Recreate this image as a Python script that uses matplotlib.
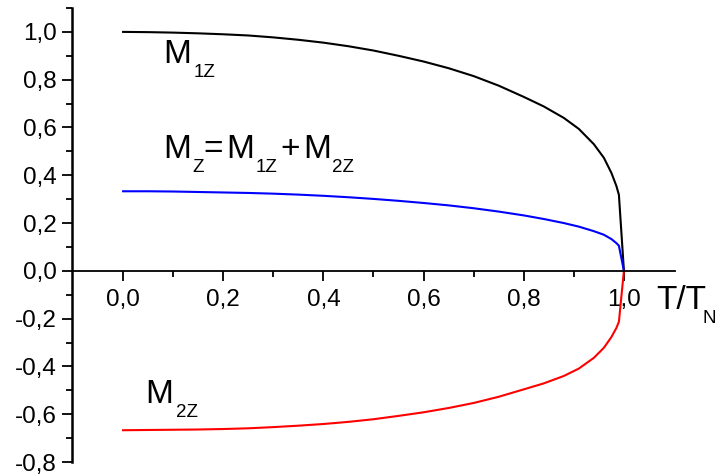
import matplotlib
matplotlib.use("Agg")
import matplotlib.pyplot as plt
from matplotlib.ticker import FixedLocator, FuncFormatter

plt.rcParams['font.family'] = ['Liberation Sans', 'DejaVu Sans']

# reduced temperature T/T_N
t = [0.0, 0.05, 0.1, 0.15, 0.2, 0.25, 0.3, 0.35, 0.4, 0.45, 0.5, 0.55, 0.6,
     0.65, 0.7, 0.75, 0.8, 0.84, 0.88, 0.91, 0.94, 0.96, 0.975, 0.985, 0.99, 1.0]
# sublattice magnetizations
m1z = [1.0, 0.999, 0.997, 0.994, 0.99, 0.985, 0.977, 0.967, 0.955, 0.94, 0.922, 0.9, 0.876,
       0.848, 0.815, 0.775, 0.728, 0.688, 0.64, 0.594, 0.53, 0.473, 0.41, 0.355, 0.318, 0.0]
mz = [0.333, 0.333, 0.332, 0.33, 0.328, 0.326, 0.323, 0.319, 0.314, 0.308, 0.301, 0.293, 0.284,
      0.274, 0.262, 0.248, 0.232, 0.217, 0.2, 0.185, 0.166, 0.151, 0.133, 0.116, 0.105, 0.0]
m2z = [-0.667, -0.666, -0.665, -0.664, -0.662, -0.659, -0.654, -0.648, -0.641, -0.632, -0.621,
       -0.607, -0.592, -0.574, -0.553, -0.527, -0.496, -0.471, -0.44, -0.409, -0.364, -0.322,
       -0.277, -0.239, -0.213, 0.0]

x_major = [0.0, 0.2, 0.4, 0.6, 0.8, 1.0]
x_minor = [0.1, 0.3, 0.5, 0.7, 0.9]
y_major = [-0.8, -0.6, -0.4, -0.2, 0.0, 0.2, 0.4, 0.6, 0.8, 1.0]
y_minor = [-0.7, -0.5, -0.3, -0.1, 0.1, 0.3, 0.5, 0.7, 0.9, 1.1]

W, H = 722, 474
fig = plt.figure(figsize=(W / 100, H / 100), dpi=100)
ax = fig.add_axes([72 / W, 1 - 462 / H, 603 / W, 454 / H])

ax.plot(t, m1z, color='black', lw=1.5)
ax.plot(t, mz, color='#0000ff', lw=1.5)
ax.plot(t, m2z, color='#ff0000', lw=1.5)

ax.set_xlim(-0.102, 1.102)
ax.set_ylim(-0.8, 1.1)

for s in ['top', 'right']:
    ax.spines[s].set_visible(False)
ax.spines['bottom'].set_position(('data', 0))
ax.spines['bottom'].set_linewidth(1.3)
ax.spines['left'].set_linewidth(1.8)
ax.set_axisbelow(True)

ax.xaxis.set_major_locator(FixedLocator(x_major))
ax.xaxis.set_minor_locator(FixedLocator(x_minor))
ax.yaxis.set_major_locator(FixedLocator(y_major))
ax.yaxis.set_minor_locator(FixedLocator(y_minor))
comma = FuncFormatter(lambda v, p: f'{v:.1f}'.replace('.', ',').replace('-0,0', '0,0'))
ax.xaxis.set_major_formatter(comma)
ax.yaxis.set_major_formatter(comma)

ax.tick_params(which='major', direction='out', length=7, width=1.3, labelsize=17.5)
ax.tick_params(which='minor', direction='out', length=4, width=1.3)
ax.tick_params(axis='x', which='major', pad=6)
ax.tick_params(axis='y', which='major', pad=4)


def label(parts):
    # parts: (text, x pixel, baseline pixel, size)
    for txt, px, py, size in parts:
        fig.text(px / W, 1 - py / H, txt, fontsize=size, va='baseline', ha='left')


big, small = 24, 13.5
label([('M', 163, 63, big), ('1Z', 194, 77, small)])
label([('M', 163, 158, big), ('Z', 192, 172, small), ('=', 203, 158, big),
       ('M', 226, 158, big), ('1Z', 256, 172, small), ('+', 280, 158, big),
       ('M', 303, 158, big), ('2Z', 332, 172, small)])
label([('M', 145, 403, big), ('2Z', 176, 417, small)])
label([('T/T', 656, 309, big), ('N', 703, 323, small)])

fig.savefig('out.png', dpi=100)
